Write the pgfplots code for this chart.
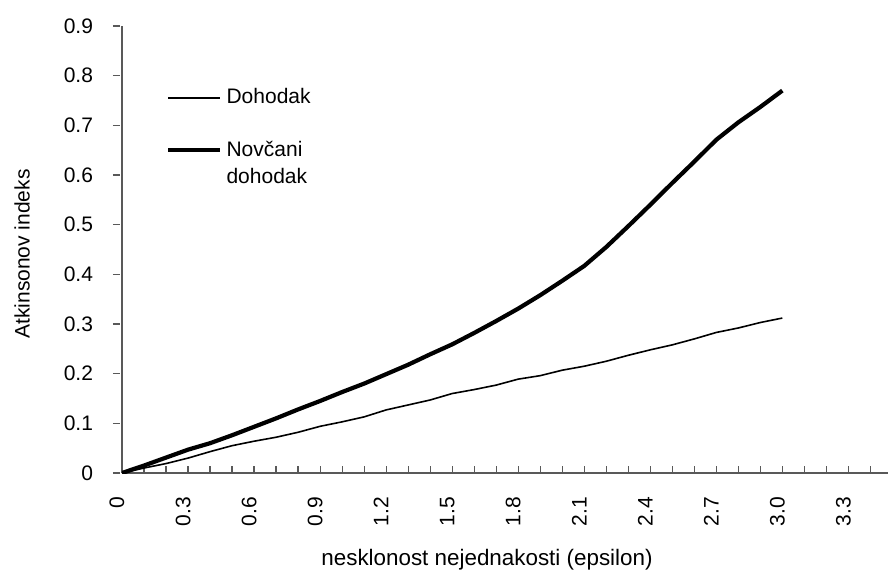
\documentclass[border=0pt]{standalone}
\usepackage{fontspec}
\setmainfont{Liberation Sans}
\usepackage{pgfplots}
\pgfplotsset{compat=1.18}

\begin{document}
\begin{tikzpicture}
\useasboundingbox (-61bp,-51.5bp) rectangle (383bp,236.5bp);
\begin{axis}[
    at={(0,0)}, anchor=south west,
    scale only axis,
    width=383bp, height=223.5bp,
    xmin=0, xmax=3.48,
    ymin=0, ymax=0.9,
    axis x line=bottom, axis y line=left,
    axis line style={-, black!65, line width=0.6bp},
    font=\fontsize{10.5bp}{12bp}\selectfont,
    /pgf/number format/assume math mode=true,
    tick align=inside,
    major tick length=3.5bp,
    every tick/.style={black!65, line width=0.6bp},
    ytick={0,0.1,...,0.95},
    ytick style={xshift=-4.5bp},
    yticklabel style={/pgf/number format/fixed, /pgf/number format/precision=1, xshift=-11bp},
    xtick={0,0.1,...,3.45},
    xticklabels={0,,,0.3,,,0.6,,,0.9,,,1.2,,,1.5,,,1.8,,,2.1,,,2.4,,,2.7,,,3.0,,,3.3,},
    xticklabel style={xshift=-2.5bp, yshift=-8.5bp, rotate=90, anchor=east},
    xlabel={nesklonost nejednakosti (epsilon)},
    xlabel style={at={(axis description cs:0.4765,-0.1946)}, anchor=center,
        font=\fontsize{11.2bp}{13bp}\selectfont},
    ylabel={Atkinsonov indeks},
    ylabel style={at={(axis description cs:-0.1305,0.49)}, anchor=center, rotate=0},
    legend style={draw=none, fill=none, inner sep=0pt,
        at={(axis description cs:0.0574,0.8605)}, anchor=north west,
        legend cell align=left, row sep=17bp,
        nodes={inner xsep=2bp, inner ysep=0pt, font=\fontsize{10.5bp}{12bp}\selectfont}},
    legend image code/.code={\draw[#1] (0bp,0bp) -- (26bp,0bp);},
]
% Dohodak
\addplot[black, line width=0.8bp] coordinates {
(0,0) (0.1,0.01) (0.2,0.019) (0.3,0.03) (0.4,0.043) (0.5,0.055) (0.6,0.064)
(0.7,0.072) (0.8,0.082) (0.9,0.094) (1.0,0.103) (1.1,0.113) (1.2,0.127)
(1.3,0.137) (1.4,0.147) (1.5,0.16) (1.6,0.168) (1.7,0.177) (1.8,0.189)
(1.9,0.196) (2.0,0.207) (2.1,0.215) (2.2,0.225) (2.3,0.237) (2.4,0.248)
(2.5,0.258) (2.6,0.27) (2.7,0.283) (2.8,0.292) (2.9,0.303) (3.0,0.312)
};
\addlegendentry{Dohodak}
% Novcani dohodak
\addplot[black, line width=2.1bp] coordinates {
(0,0) (0.1,0.015) (0.2,0.031) (0.3,0.047) (0.4,0.06) (0.5,0.076) (0.6,0.093)
(0.7,0.11) (0.8,0.128) (0.9,0.145) (1.0,0.163) (1.1,0.18) (1.2,0.199)
(1.3,0.218) (1.4,0.239) (1.5,0.259) (1.6,0.282) (1.7,0.306) (1.8,0.331)
(1.9,0.358) (2.0,0.387) (2.1,0.417) (2.2,0.455) (2.3,0.497) (2.4,0.54)
(2.5,0.584) (2.6,0.627) (2.7,0.671) (2.8,0.706) (2.9,0.737) (3.0,0.77)
};
\addlegendentry{\makebox[0pt][l]{\smash{\raisebox{-13.5bp}{dohodak}}}Novčani}
\end{axis}
\end{tikzpicture}
\end{document}
